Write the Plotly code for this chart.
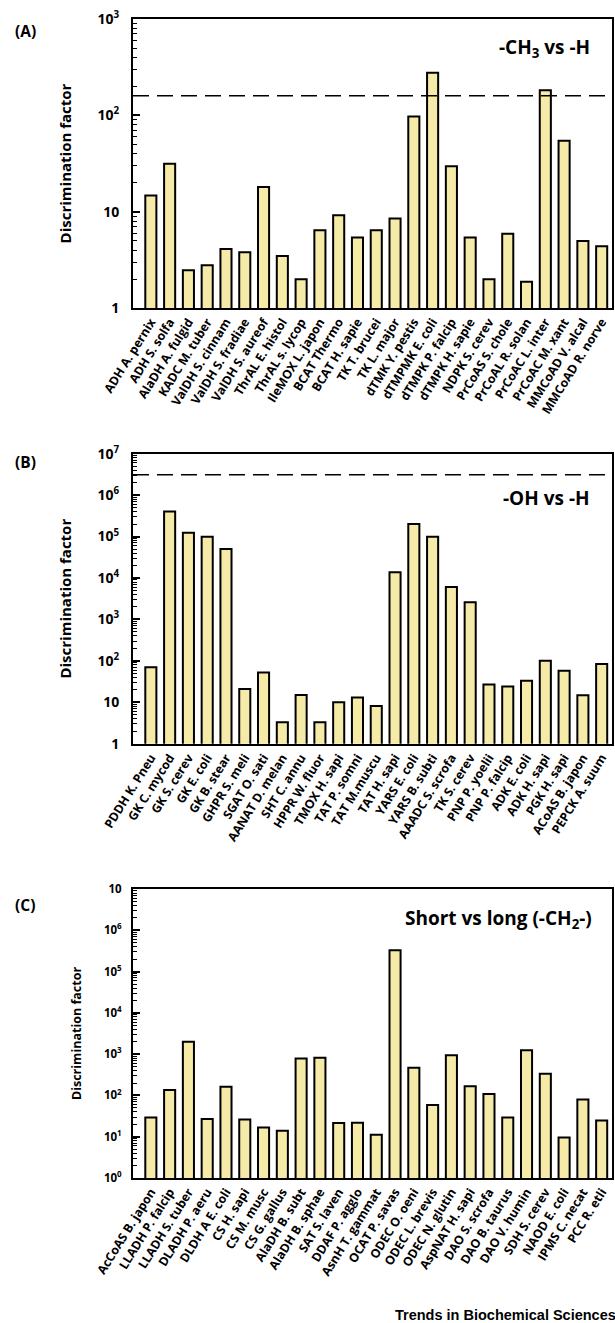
import plotly.graph_objects as go
from plotly.subplots import make_subplots

# ---------------- data ----------------
labels_a = ["ADH A. pernix", "ADH S. solfa", "AlaDH A. fulgid", "KADC M. tuber", "ValDH S. cinnam",
            "ValDH S. fradiae", "ValDH S. aureof", "ThrAL E. histol", "ThrAL s. lycop", "IleMOX L. japon",
            "BCAT Thermo", "BCAT H. sapie", "TK T. brucei", "TK L. major", "dTMK Y. pestis",
            "dTMPMK E. coli", "dTMPK P. falcip", "dTMPK H. sapie", "NDPK S. cerev", "PrCoAS S. chole",
            "PrCoAL R. solan", "PrCoAC L. inter", "PrCoAC M. xant", "MMCoAD V. alcal", "MMCoAD R. norve"]
values_a = [14.7, 31.5, 2.46, 2.77, 4.1, 3.8, 18.0, 3.47, 1.99, 6.4,
            9.2, 5.4, 6.4, 8.5, 97, 277, 29.6, 5.4, 1.99, 5.9,
            1.87, 182, 54.5, 4.96, 4.37]
threshold_a = 160

labels_b = ["PDDH K. Pneu", "GK C. mycod", "GK S. cerev", "GK E. coli", "GK B. stear",
            "GHPR S. meli", "SGAT O. sati", "AANAT D. melan", "SHT C. annu", "HPPR W. fluor",
            "TMOX H. sapi", "TAT P. somni", "TAT M.muscu", "TAT H. sapi", "YARS E. coli",
            "YARS B. subti", "AAADC S. scrofa", "TK S. cerev", "PNP P. yoelii", "PNP P. falcip",
            "ADK E. coli", "ADK H. sapi", "PGK H. sapi", "ACoAS B. japon", "PEPCK A. suum"]
values_b = [70, 4.0e5, 1.24e5, 9.9e4, 5.0e4, 21, 52, 3.3, 15, 3.3,
            10, 13, 8.1, 1.37e4, 2.0e5, 9.9e4, 6.1e3, 2.6e3, 27, 24,
            33, 100, 58, 14.7, 84]
threshold_b = 3.1e6

labels_c = ["AcCoAS B. japon", "LLADH P. falcip", "LLADH S. tuber", "DLADH P. aeru", "DLDH A E. coli",
            "CS H. sapi", "CS M. musc", "CS G. gallus", "AlaDH B. subt", "AlaDH B. sphae",
            "SAT S. laven", "DDAF P. agglo", "AsnH T. gammat", "OCAT P. savas", "ODEC O. oeni",
            "ODEC L. brevis", "ODEC N. glutin", "AspNAT H. sapi", "DAO S. scrofa", "DAO B. taurus",
            "DAO V. humin", "SDH S. cerev", "NAOD E. coli", "IPMS C. necat", "PCC R. etli"]
values_c = [29, 135, 1990, 27, 162, 26, 16.8, 13.9, 783, 814,
            21.4, 21.8, 11.2, 3.3e5, 467, 59, 945, 168, 108, 29,
            1250, 334, 9.6, 80, 24.8]

ticks_a = [1, 10, 100, 1000]
ticktext_a = ["1", "10", "10<sup>2</sup>", "10<sup>3</sup>"]
ticks_b = [1, 10, 1e2, 1e3, 1e4, 1e5, 1e6, 1e7]
ticktext_b = ["1", "10", "10<sup>2</sup>", "10<sup>3</sup>", "10<sup>4</sup>", "10<sup>5</sup>",
              "10<sup>6</sup>", "10<sup>7</sup>"]
ticks_c = [1, 10, 1e2, 1e3, 1e4, 1e5, 1e6, 1e7]
ticktext_c = ["10<sup>0</sup>", "10<sup>1</sup>", "10<sup>2</sup>", "10<sup>3</sup>", "10<sup>4</sup>",
              "10<sup>5</sup>", "10<sup>6</sup>", "10"]

# ---------------- styling ----------------
FONT = "Open Sans"
BAR_FILL = "#F6EAA8"
W, H = 615, 1323

fig = make_subplots(rows=3, cols=1, shared_xaxes=False, vertical_spacing=0.05)

panels = [
    (labels_a, values_a, ticks_a, ticktext_a, 3, 14),
    (labels_b, values_b, ticks_b, ticktext_b, 7, 14),
    (labels_c, values_c, ticks_c, ticktext_c, 7, 11.5),
]

mt, mb = 19, 145
ph = H - mt - mb
px_dom = [(19, 308), (453.7, 743.7), (889, 1178)]


def to_dom(top, bottom):
    return [(H - mb - bottom) / ph, (H - mb - top) / ph]


for i, (labs, vals, tv, tt, top_exp, tfs) in enumerate(panels):
    r = i + 1
    xs = list(range(len(labs)))
    fig.add_trace(go.Bar(x=xs, y=vals, width=0.59, marker=dict(color=BAR_FILL, line=dict(color="black", width=2)),
                         showlegend=False), row=r, col=1)
    minor_vals = []
    for e in range(top_exp):
        for m in range(2, 10):
            minor_vals.append(m * 10 ** e)
    fig.update_yaxes(type="log", range=[0, top_exp], tickvals=tv, ticktext=tt,
                     ticks="inside", ticklen=7, tickwidth=1.5, tickcolor="black",
                     ticklabelstandoff=9 if i < 2 else 7,
                     minor=dict(tickmode="array", tickvals=minor_vals, ticks="inside", ticklen=4,
                                tickwidth=1, tickcolor="black"),
                     showline=True, linecolor="black", linewidth=2, mirror=True,
                     showgrid=False, zeroline=False,
                     tickfont=dict(family=FONT, size=tfs, color="black", weight="bold"),
                     title=dict(text="Discrimination factor",
                                font=dict(family=FONT, size=15 if i < 2 else 12.5, color="black", weight="bold"),
                                standoff=22 if i < 2 else 20),
                     domain=to_dom(*px_dom[i]), automargin=False, row=r, col=1)
    fig.update_xaxes(tickmode="array", tickvals=xs, ticktext=labs, tickangle=-58,
                     range=[-0.95, 24.55], ticks="", showline=True, linecolor="black", linewidth=2,
                     mirror=True, showgrid=False, zeroline=False,
                     tickfont=dict(family=FONT, size=12.3, color="black", weight="bold"),
                     automargin=False, row=r, col=1)

fig.add_hline(y=threshold_a, line=dict(color="black", width=1.5, dash="16px,8px"), row=1, col=1)
fig.add_hline(y=threshold_b, line=dict(color="black", width=1.5, dash="16px,8px"), row=2, col=1)

ann_font = dict(family=FONT, size=19, color="black", weight="bold")
for i, (txt, xr, ys) in enumerate([("-CH<sub>3</sub> vs -H", 0.958, 0.90), ("-OH vs -H", 0.958, 0.847),
                                    ("Short vs long (-CH<sub>2</sub>-)", 0.962, 0.896)]):
    axn = "" if i == 0 else str(i + 1)
    fig.add_annotation(text=txt, xref=f"x{axn} domain", yref=f"y{axn} domain", x=xr, y=ys,
                       xanchor="right", yanchor="middle", showarrow=False, font=ann_font)

for lab, ypx in [("(A)", 31), ("(B)", 462), ("(C)", 905)]:
    fig.add_annotation(text=lab, xref="paper", yref="paper", x=(25 - 133) / (W - 133 - 3),
                       y=(H - mb - ypx) / ph, xanchor="center", yanchor="middle", showarrow=False,
                       font=dict(family=FONT, size=15.5, color="black", weight="bold"))

fig.add_annotation(text="Trends in Biochemical Sciences", xref="paper", yref="paper",
                   x=(618 - 133) / (W - 133 - 3), y=(H - mb - 1315) / ph, xanchor="right", yanchor="middle",
                   showarrow=False, font=dict(family="Liberation Sans", size=14.5, color="black", weight="bold"))

fig.update_layout(width=W, height=H, margin=dict(l=133, r=3, t=mt, b=mb),
                  plot_bgcolor="white", paper_bgcolor="white", bargap=0.4)

fig.write_html("out.html", config={"displayModeBar": False},
               post_script="document.body.style.margin='0';document.body.style.overflow='hidden';")
